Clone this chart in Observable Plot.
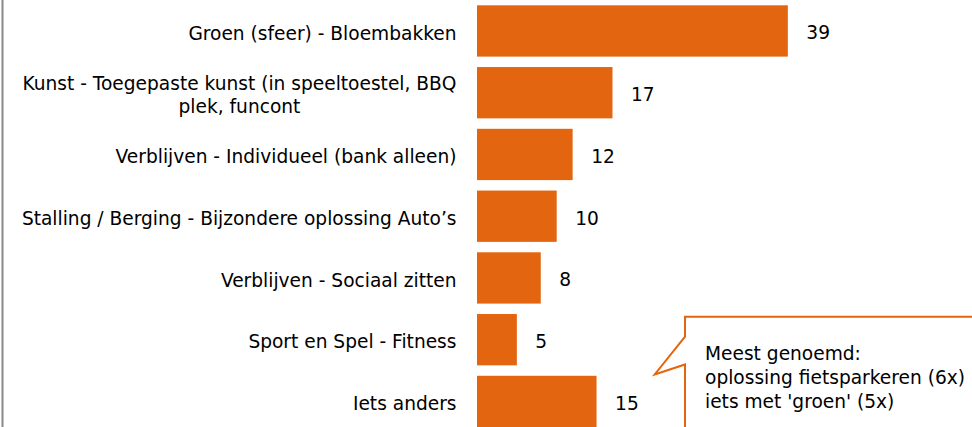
<!DOCTYPE html>
<html><head><meta charset="utf-8">
<script src="https://cdn.jsdelivr.net/npm/d3@7"></script>
<script src="https://cdn.jsdelivr.net/npm/@observablehq/plot@0.6"></script>
<style>
html,body{margin:0;padding:0;background:#fff;overflow:hidden}
svg{font-family:"DejaVu Sans",sans-serif;}
</style></head>
<body><div id="chart"></div>
<script>
const categories = [
  "Groen (sfeer) - Bloembakken",
  "Kunst - Toegepaste kunst (in speeltoestel, BBQ\nplek, funcont",
  "Verblijven - Individueel (bank alleen)",
  "Stalling / Berging - Bijzondere oplossing Auto\u2019s",
  "Verblijven - Sociaal zitten",
  "Sport en Spel - Fitness",
  "Iets anders"
];
const values = [39, 17, 12, 10, 8, 5, 15];
const calloutLines = ["Meest genoemd:", "oplossing fietsparkeren (6x)", "iets met 'groen' (5x)"];

const data = categories.map((c, i) => ({category: c, value: values[i]}));
const orange = "#E4650F";
const FS = 18.6;

const callout = (index, scales, values_, dims) => {
  const x = scales.x, y = scales.y, bw = y.bandwidth ? y.bandwidth() : 51;
  const ySport = y(categories[5]) + bw / 2;
  const yIets = y(categories[6]) + bw / 2;
  const left = x(26.1), tip = x(22.3);
  const top = ySport - 23;
  const g = d3.create("svg:g");
  const path = [
    [left, dims.height + 10], [left, yIets - 37], [tip, yIets - 27], [left, ySport - 3],
    [left, top], [dims.width + 10, top]
  ];
  g.append("path").attr("d", d3.line()(path)).attr("fill", "none")
    .attr("stroke", orange).attr("stroke-width", 2);
  const t = g.append("text").attr("font-size", FS).attr("fill", "#000").attr("text-anchor", "start");
  calloutLines.forEach((s, i) => {
    t.append("tspan").attr("x", left + 20).attr("y", top + 43 + i * 24).text(s);
  });
  return g.node();
};

const chart = Plot.plot({
  width: 972, height: 427,
  marginLeft: 2, marginTop: 0, marginBottom: 0, marginRight: 0,
  x: {domain: [0, 40], range: [477, 795.8], axis: null},
  y: {domain: categories, range: [0, 432.4], paddingInner: 0.169, paddingOuter: 0.086, round: false, axis: null},
  marks: [
    Plot.frame({anchor: "left", stroke: "#888", strokeWidth: 2}),
    Plot.barX(data, {x: "value", y: "category", fill: orange}),
    Plot.text(data, {x: 0, y: "category", text: "category", textAnchor: "end", dx: -21, dy: 1,
      fontSize: FS, fill: "#000", lineHeight: 1.22}),
    Plot.text(data, {x: "value", y: "category", text: d => String(d.value), textAnchor: "start",
      dx: 18, dy: 2, fontSize: FS, fill: "#000"}),
    callout
  ]
});
document.getElementById("chart").appendChild(chart);
// center the lines of the multi-line label, like the original
d3.select(chart).selectAll("text").each(function() {
  const tspans = this.querySelectorAll("tspan");
  if (tspans.length > 1 && this.textContent.startsWith("Kunst")) {
    const w = this.getBBox().width;
    this.setAttribute("text-anchor", "middle");
    const tr = this.getAttribute("transform") || "";
    this.setAttribute("transform", tr + ` translate(${-w / 2},0)`);
  }
});
</script></body></html>
